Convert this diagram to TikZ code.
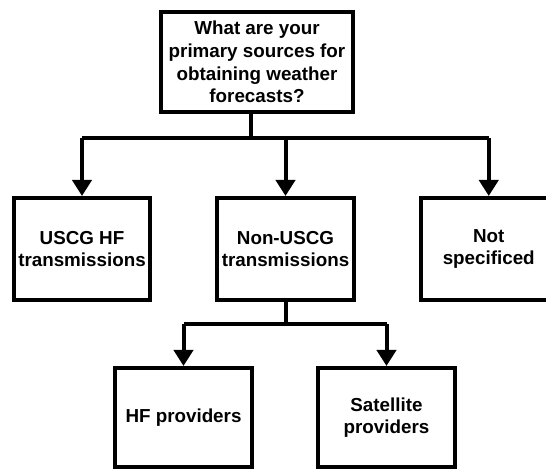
\documentclass[tikz,border=0pt]{standalone}
\usepackage{fontspec}
\setmainfont{Liberation Sans}
\usetikzlibrary{arrows.meta}
\tikzset{
  box/.style={draw=black, line width=4pt, fill=white, inner sep=2pt, align=center,
    font=\fontsize{18.8}{22.6}\selectfont\bfseries},
  link/.style={draw=black, line width=4pt},
  arr/.style={link, -{Triangle[length=16pt,width=19pt]}}
}
\begin{document}
\begin{tikzpicture}[x=1pt,y=1pt]
\useasboundingbox (0,0) rectangle (546,470);
\clip (0,0) rectangle (546,470);
\node[box, minimum width=192pt, minimum height=100pt] (top) at (257,408)
  {What are your\\primary sources for\\obtaining weather\\forecasts?};
\node[box, minimum width=136pt, minimum height=102pt] (uscg) at (82,221)
  {USCG HF\\transmissions};
\node[box, minimum width=137pt, minimum height=102pt] (non) at (285.5,221)
  {Non-USCG\\transmissions};
\node[box, minimum width=136pt, minimum height=102pt] (ns) at (488.75,221)
  {Not\\specificed};
\node[box, minimum width=137pt, minimum height=99pt] (hf) at (183.5,52.5)
  {HF providers};
\node[box, minimum width=137pt, minimum height=99pt] (sat) at (386.5,52.5)
  {Satellite\\providers};
\coordinate (hub1) at (251,332);
\coordinate (hub2) at (285.5,145.5);
\draw[link] (hub1 |- top.south) -- (hub1);
\draw[link] (hub1 -| uscg.north) -- (hub1 -| ns.north);
\draw[arr] (hub1 -| uscg.north) -- (uscg.north);
\draw[arr] (hub1 -| non.north) -- (non.north);
\draw[arr] (hub1 -| ns.north) -- (ns.north);
\draw[link] (non.south) -- (hub2);
\draw[link] (hub2 -| hf.north) -- (hub2 -| sat.north);
\draw[arr] (hub2 -| hf.north) -- (hf.north);
\draw[arr] (hub2 -| sat.north) -- (sat.north);
\end{tikzpicture}
\end{document}
